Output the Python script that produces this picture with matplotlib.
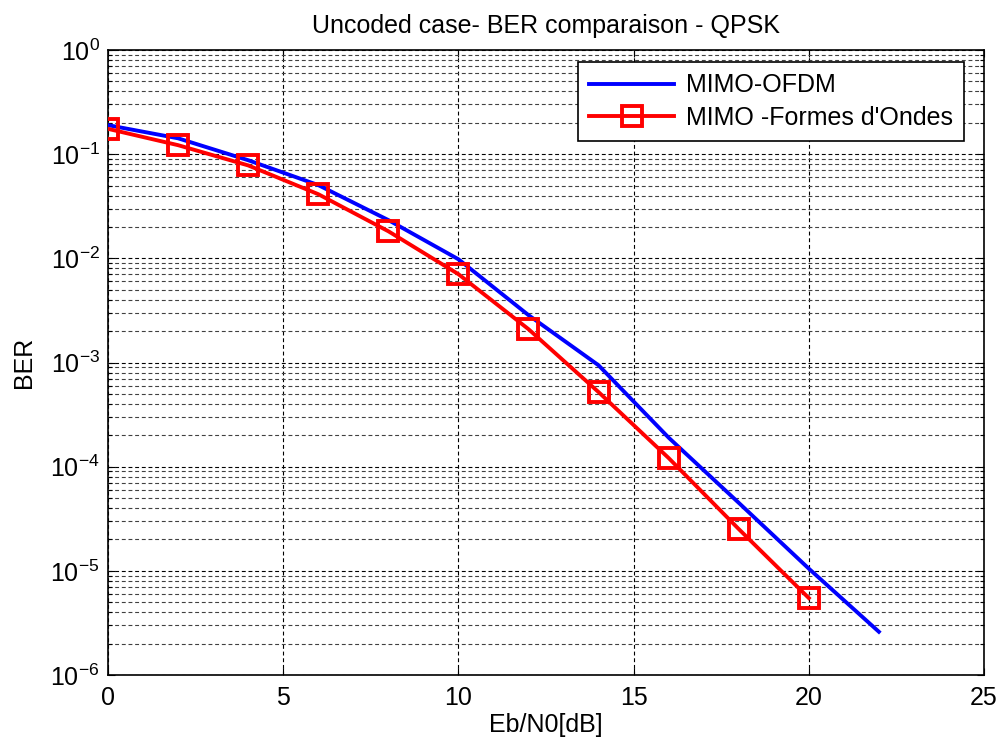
import math
import matplotlib
matplotlib.use("Agg")
import matplotlib.pyplot as plt
from matplotlib.ticker import LogLocator, NullFormatter, FixedLocator, FuncFormatter

plt.rcParams['font.family'] = ['Liberation Sans', 'DejaVu Sans']
plt.rcParams['mathtext.fontset'] = 'custom'
plt.rcParams['mathtext.rm'] = 'Liberation Sans'
plt.rcParams['mathtext.it'] = 'Liberation Sans'
plt.rcParams['mathtext.default'] = 'regular'
plt.rcParams['axes.unicode_minus'] = False

# Eb/N0 in dB
snr_ofdm = [0, 2, 4, 6, 8, 10, 12, 14, 16, 18, 20, 22]
ber_ofdm = [0.19, 0.142, 0.0875, 0.0505, 0.0233, 0.0098, 0.00285, 9.4e-4,
            1.9e-4, 4.5e-5, 1.05e-5, 2.6e-6]

snr_fo = [0, 2, 4, 6, 8, 10, 12, 14, 16, 18, 20]
ber_fo = [0.175, 0.122, 0.078, 0.0413, 0.0182, 0.00705, 0.00209, 5.2e-4,
          1.21e-4, 2.52e-5, 5.48e-6]

labels = ['MIMO-OFDM', "MIMO -Formes d'Ondes"]
title = 'Uncoded case- BER comparaison - QPSK'
xlabel = 'Eb/N0[dB]'
ylabel = 'BER'
xticks = [0, 5, 10, 15, 20, 25]

fig = plt.figure(figsize=(10.04, 7.42), dpi=100)
ax = fig.add_axes([108 / 1004, 1 - 675 / 742, (984 - 108) / 1004, (675 - 50) / 742])

ax.semilogy(snr_ofdm, ber_ofdm, color='#0000ff', lw=2.8, label=labels[0], zorder=3)
ax.semilogy(snr_fo, ber_fo, color='#ff0000', lw=2.8, marker='s', markersize=14.5,
            markerfacecolor='none', markeredgewidth=2.8, label=labels[1], zorder=4)

ax.set_xlim(0, 25)
ax.set_ylim(1e-6, 1)
ax.xaxis.set_major_locator(FixedLocator(xticks))
ax.yaxis.set_major_locator(LogLocator(base=10, numticks=10))
ax.yaxis.set_major_formatter(FuncFormatter(
    lambda v, p: r'$10^{%d}$' % round(math.log10(v))))
ax.yaxis.set_minor_locator(LogLocator(base=10, subs=range(2, 10), numticks=100))
ax.yaxis.set_minor_formatter(NullFormatter())

grid_style = dict(color='black', linestyle=(0, (3.5, 2.5)), linewidth=0.8)
ax.grid(True, which='major', axis='both', **grid_style)
ax.grid(True, which='minor', axis='y', color='#404040', linestyle=(0, (3.5, 2.5)), linewidth=0.8)

ax.tick_params(which='both', direction='in', top=True, right=True, labelsize=18)
ax.tick_params(axis='y', pad=6)
ax.tick_params(axis='x', pad=8)
ax.tick_params(which='major', length=5, width=0.8)
ax.tick_params(which='minor', length=3, width=0.8)
for s in ax.spines.values():
    s.set_linewidth(1.2)

ax.set_title(title, fontsize=18, pad=12)
ax.set_xlabel(xlabel, fontsize=18, labelpad=2)
ax.set_ylabel(ylabel, fontsize=18, labelpad=10)

leg = ax.legend(loc='upper right', bbox_to_anchor=(964 / 1004, 1 - 62 / 742),
                bbox_transform=fig.transFigure, borderaxespad=0, fontsize=18,
                handlelength=3.4, handletextpad=0.45, fancybox=False,
                framealpha=1, edgecolor='black', borderpad=0.45, labelspacing=0.35)
leg.get_frame().set_linewidth(1.2)

fig.savefig('out.png', dpi=100)
